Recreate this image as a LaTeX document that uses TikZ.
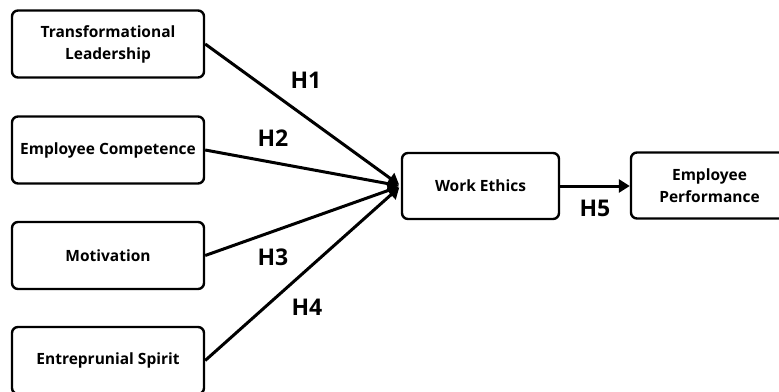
\documentclass[tikz,border=0pt]{standalone}
\usepackage{fontspec}
\setmainfont{Open Sans}
\usetikzlibrary{arrows.meta}
\begin{document}
\begin{tikzpicture}[x=1pt,y=-1pt,
  box/.style={draw,line width=2.4pt,rounded corners=6pt,inner sep=0pt,
    minimum width=192pt,minimum height=67pt,align=center,
    font=\bfseries\fontsize{15.5}{22}\selectfont},
  hyp/.style={font=\bfseries\fontsize{23}{26}\selectfont},
  link/.style={line width=3pt,-{Triangle[length=11pt,width=13pt]}}]
  \useasboundingbox (0,0) rectangle (779,391);
  \clip (0,0) rectangle (779,391);
  % predictors
  \node[box] (tl) at (108,44) {Transformational\\Leadership};
  \node[box] (ec) at (108,150) {Employee Competence};
  \node[box] (mo) at (108,255.5) {Motivation};
  \node[box] (es) at (108,360.5) {Entreprunial Spirit};
  % mediator and outcome
  \node[box,minimum width=157pt,minimum height=66pt] (we) at (480.5,186) {Work Ethics};
  \node[box,minimum width=157pt,minimum height=66pt] (ep) at (709.5,185.5) {Employee\\Performance};
  % paths
  \foreach \n in {tl,ec,mo,es}
  {
    \draw[link,shorten >=2pt] (\n.east) -- (we.west);
  }
  \draw[link] (we.east) -- (we.east -| ep.west);
  \node[hyp] (h1) at (306,80) {H1};
  \node[hyp] (h2) at (273,138) {H2};
  \node[hyp] (h3) at (273,257) {H3};
  \node[hyp] (h4) at (307,307) {H4};
  \node[hyp] (h5) at (595,208) {H5};
\end{tikzpicture}
\end{document}
